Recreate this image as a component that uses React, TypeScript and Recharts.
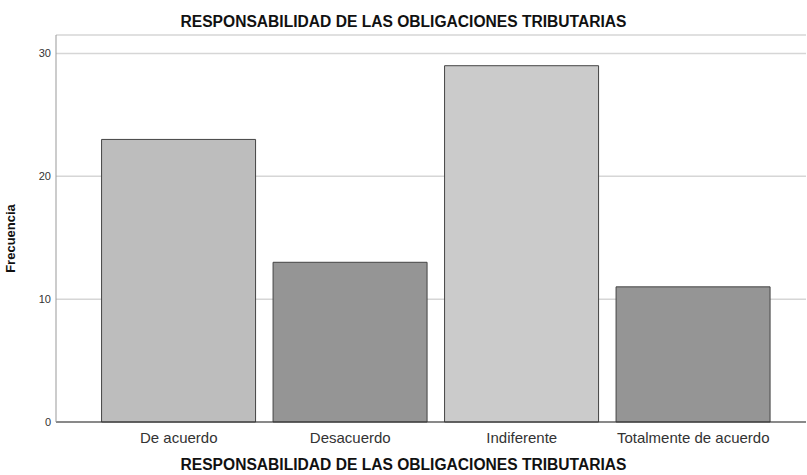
import React from 'react'
import { BarChart, Bar, XAxis, YAxis, CartesianGrid, Cell } from 'recharts'

const categories = ['De acuerdo', 'Desacuerdo', 'Indiferente', 'Totalmente de acuerdo']
const frecuencias = [23, 13, 29, 11]
const barColors = ['#bdbdbd', '#959595', '#cbcbcb', '#959595']
const yTicks = [0, 10, 20, 30]

const title = 'RESPONSABILIDAD DE LAS OBLIGACIONES TRIBUTARIAS'

const data = categories.map((name, i) => ({ name, value: frecuencias[i] }))

const font = '"Liberation Sans", Arial, sans-serif'

const headStyle: React.CSSProperties = {
  position: 'absolute', left: 0, width: 807, textAlign: 'center',
  fontSize: 15.6, fontWeight: 'bold', color: '#111', lineHeight: 'normal'
}

function App() {
  return (
    <div style={{ position: 'absolute', left: 0, top: 0, width: 807, height: 475, background: '#fff', fontFamily: font, overflow: 'hidden' }}>
      <div style={{ ...headStyle, top: 13 }}>{title}</div>
      <BarChart
        width={807}
        height={475}
        data={data}
        barCategoryGap="5%"
        margin={{ top: 35, right: 1, left: 0, bottom: 0 }}
      >
        <CartesianGrid vertical={false} stroke="#d6d6d6" strokeWidth={1.5} />
        <XAxis
          dataKey="name"
          height={53}
          padding={{ left: 37, right: 27 }}
          axisLine={{ stroke: '#333' }}
          tickLine={false}
          tickSize={0}
          tick={{ fontSize: 15, fill: '#333', fontFamily: font }}
          tickMargin={10}
        />
        <YAxis
          width={56}
          domain={[0, 31.5]}
          ticks={yTicks}
          axisLine={{ stroke: '#999' }}
          tickLine={false}
          tickSize={0}
          tick={{ fontSize: 11, fill: '#333', fontFamily: font }}
          tickMargin={5}
        />
        <Bar dataKey="value" stroke="#444" strokeWidth={1} isAnimationActive={false}>
          {data.map((d, i) => (
            <Cell key={d.name} fill={barColors[i]} />
          ))}
        </Bar>
      </BarChart>
      <div
        style={{
          position: 'absolute', left: 10, top: 238, width: 0, height: 0,
          display: 'flex', alignItems: 'center', justifyContent: 'center'
        }}
      >
        <div
          style={{
            transform: 'rotate(-90deg)', whiteSpace: 'nowrap',
            fontSize: 13, fontWeight: 'bold', color: '#111'
          }}
        >
          Frecuencia
        </div>
      </div>
      <div style={{ ...headStyle, top: 456 }}>{title}</div>
    </div>
  )
}

export default App
